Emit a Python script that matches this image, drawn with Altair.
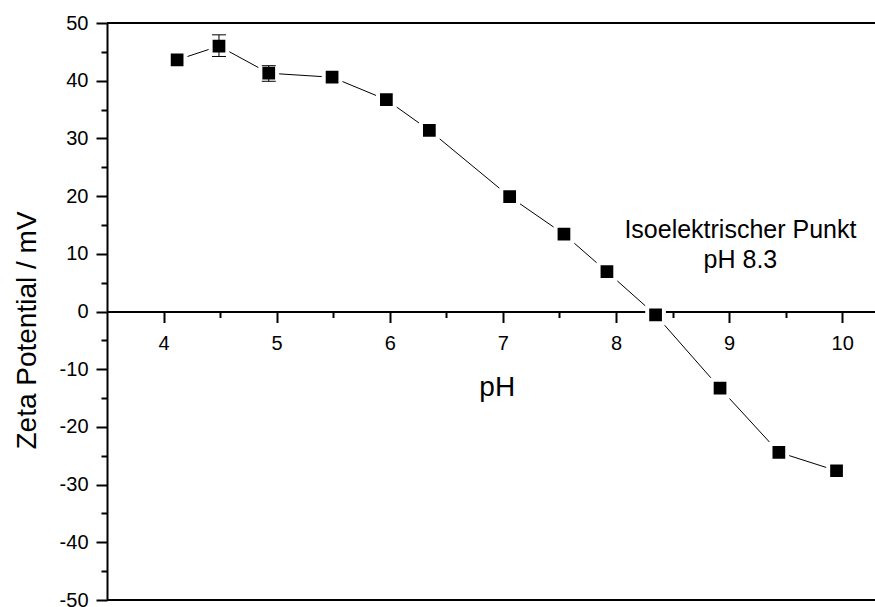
import altair as alt
import pandas as pd

# data
ph = [4.12, 4.49, 4.93, 5.49, 5.97, 6.35, 7.06, 7.54, 7.92, 8.35, 8.92, 9.44, 9.95]
zeta = [43.6, 46.0, 41.3, 40.6, 36.7, 31.4, 19.9, 13.4, 6.9, -0.6, -13.3, -24.4, -27.6]
err_ph = [4.49, 4.93]
err_lo = [44.2, 39.9]
err_hi = [47.95, 42.6]

x_major = [4, 5, 6, 7, 8, 9, 10]
x_minor = [4.5, 5.5, 6.5, 7.5, 8.5, 9.5]
y_major = [-50, -40, -30, -20, -10, 0, 10, 20, 30, 40, 50]
y_minor = [-45, -35, -25, -15, -5, 5, 15, 25, 35, 45]
frame_y = [-50, 50]

note_x = [9.10]
note_y = [12.7]
note_text = ["Isoelektrischer Punkt\npH 8.3"]

FONT = "Liberation Sans"
xs = alt.Scale(domain=[3.5, 10.29], nice=False, zero=False)
ys = alt.Scale(domain=[-50, 50], nice=False, zero=False)

df = pd.DataFrame({"ph": ph, "zeta": zeta})
err = pd.DataFrame({"ph": err_ph, "lo": err_lo, "hi": err_hi})
frame = pd.DataFrame({"fy": frame_y})
note = pd.DataFrame({"x": note_x, "y": note_y, "t": note_text})

minus_fix = "datum.value < 0 ? '-' + abs(datum.value) : '' + datum.value"

x_axis_major = alt.Axis(
    orient="bottom", values=x_major, offset=-288.5, tickSize=11, tickWidth=2,
    tickColor="black", domainWidth=2, domainColor="black", grid=False,
    labelFont=FONT, labelFontSize=20, labelColor="black", labelPadding=11,
    title="pH", titleFont=FONT, titleFontSize=28, titleFontWeight="normal",
    titleColor="black", titleX=389.7, titleY=83.5, titleBaseline="alphabetic",
    titleAlign="center", titleAngle=0,
)
y_axis_major = alt.Axis(
    orient="left", values=y_major, tickSize=11, tickWidth=2, tickColor="black",
    domainWidth=2, domainColor="black", grid=False,
    labelFont=FONT, labelFontSize=20, labelColor="black", labelPadding=8,
    labelExpr=minus_fix,
    title="Zeta Potential / mV", titleFont=FONT, titleFontSize=28,
    titleFontWeight="normal", titleColor="black", titleX=-72, titleY=307,
    titleAngle=270, titleBaseline="alphabetic", titleAlign="center",
)
x_axis_minor = alt.Axis(
    orient="bottom", values=x_minor, offset=-288.5, tickSize=6, tickWidth=2,
    tickColor="black", domain=False, labels=False, grid=False, title=None,
)
y_axis_minor = alt.Axis(
    orient="left", values=y_minor, tickSize=6, tickWidth=2, tickColor="black",
    domain=False, labels=False, grid=False, title=None,
)

line = alt.Chart(df).mark_line(color="black", strokeWidth=1).encode(
    x=alt.X("ph:Q", scale=xs, axis=x_axis_major),
    y=alt.Y("zeta:Q", scale=ys, axis=y_axis_major),
)

points = alt.Chart(df).mark_point(
    shape="square", filled=True, fill="black", stroke="white",
    strokeWidth=4, size=280, opacity=1,
).encode(
    x=alt.X("ph:Q", scale=xs, axis=x_axis_minor),
    y=alt.Y("zeta:Q", scale=ys, axis=y_axis_minor),
)

bars = alt.Chart(err).mark_rule(color="black", strokeWidth=1).encode(
    x=alt.X("ph:Q", scale=xs, axis=None),
    y=alt.Y("lo:Q", scale=ys, axis=None),
    y2="hi:Q",
)
cap_lo = alt.Chart(err).mark_tick(color="black", thickness=1, size=14,
                                  orient="horizontal", opacity=1).encode(
    x=alt.X("ph:Q", scale=xs, axis=None),
    y=alt.Y("lo:Q", scale=ys, axis=None),
)
cap_hi = alt.Chart(err).mark_tick(color="black", thickness=1, size=14,
                                  orient="horizontal", opacity=1).encode(
    x=alt.X("ph:Q", scale=xs, axis=None),
    y=alt.Y("hi:Q", scale=ys, axis=None),
)

frame_rules = alt.Chart(frame).mark_rule(color="black", strokeWidth=2).encode(
    y=alt.Y("fy:Q", scale=ys, axis=None),
)

text = alt.Chart(note).mark_text(
    font=FONT, fontSize=25, color="black", align="center",
    baseline="alphabetic", lineBreak="\n", lineHeight=30,
).encode(
    x=alt.X("x:Q", scale=xs, axis=None),
    y=alt.Y("y:Q", scale=ys, axis=None),
    text="t:N",
)

chart = alt.layer(
    frame_rules, line, points, bars, cap_lo, cap_hi, text
).resolve_axis(x="independent", y="independent").properties(
    width=768, height=577,
    padding={"left": 107, "top": 23, "right": 0, "bottom": 7},
    autosize=alt.AutoSizeParams(type="none"),
    background="white",
).configure_view(stroke=None)

chart.save("out.html", embed_options={"renderer": "svg", "actions": False})
